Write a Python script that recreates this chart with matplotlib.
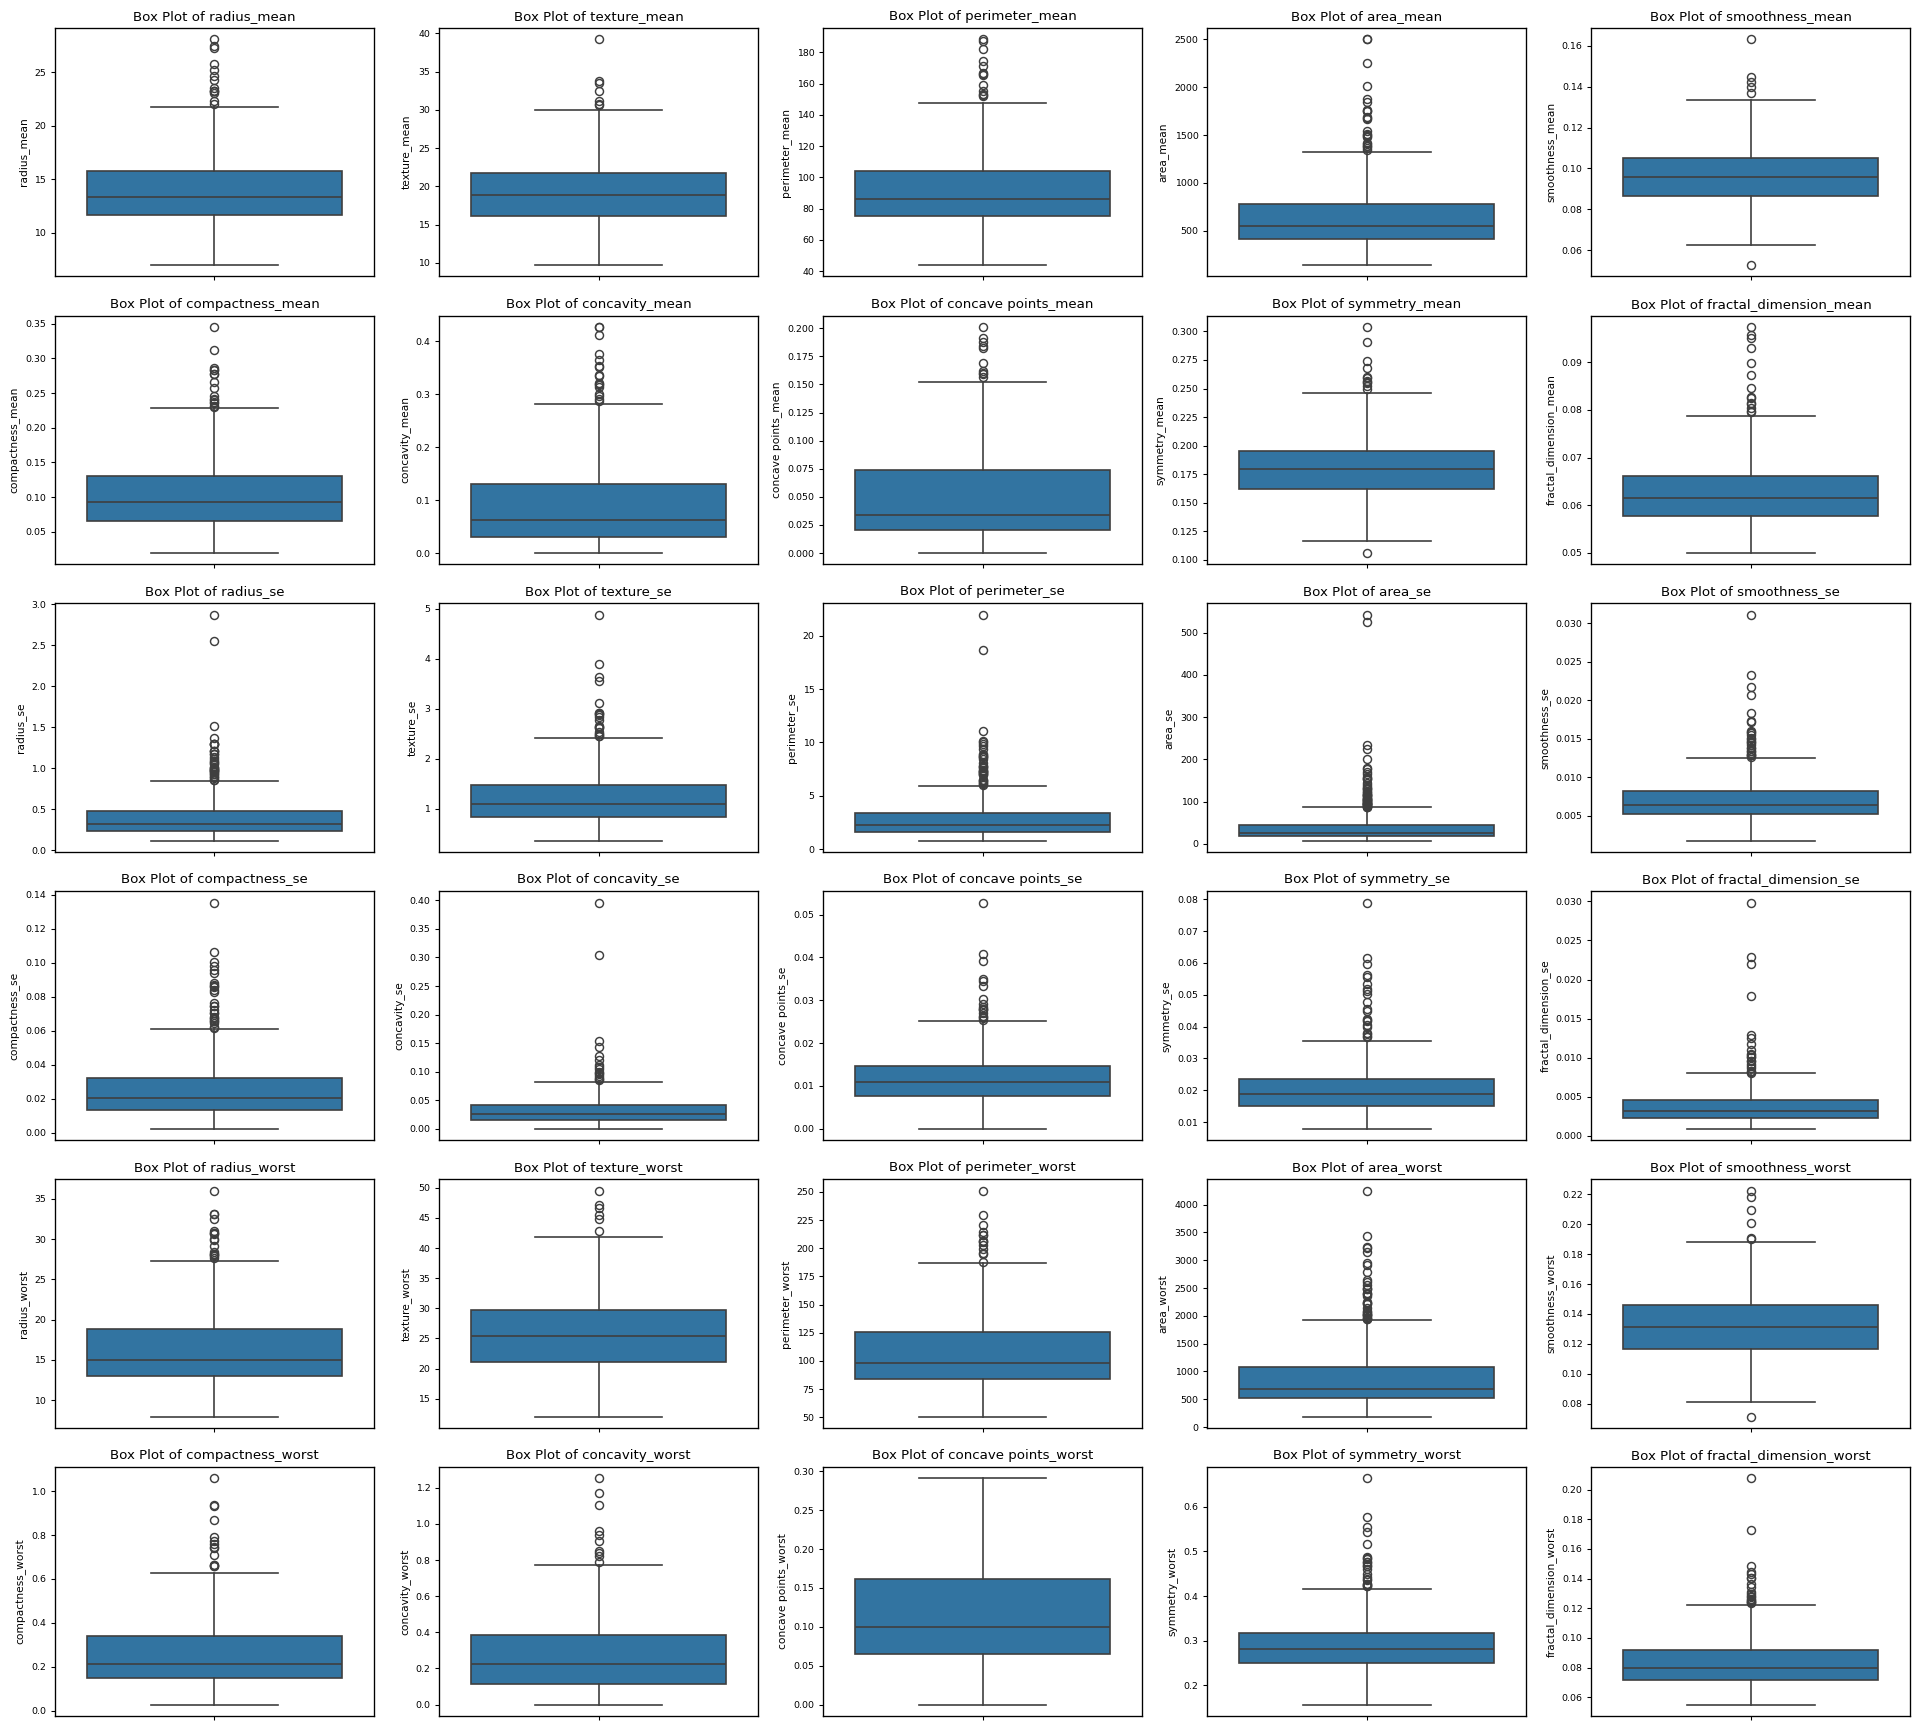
import matplotlib
matplotlib.use("Agg")
import matplotlib.pyplot as plt

features = [
    "radius_mean", "texture_mean", "perimeter_mean", "area_mean", "smoothness_mean",
    "compactness_mean", "concavity_mean", "concave points_mean", "symmetry_mean", "fractal_dimension_mean",
    "radius_se", "texture_se", "perimeter_se", "area_se", "smoothness_se",
    "compactness_se", "concavity_se", "concave points_se", "symmetry_se", "fractal_dimension_se",
    "radius_worst", "texture_worst", "perimeter_worst", "area_worst", "smoothness_worst",
    "compactness_worst", "concavity_worst", "concave points_worst", "symmetry_worst", "fractal_dimension_worst",
]

q1 = [11.70, 16.17, 75.17, 420.3, 0.08637,
      0.06492, 0.02956, 0.02031, 0.1619, 0.0577,
      0.2324, 0.8339, 1.606, 17.85, 0.005169,
      0.01308, 0.01509, 0.007638, 0.01516, 0.002248,
      13.01, 21.08, 84.11, 515.3, 0.1166,
      0.1472, 0.1145, 0.06493, 0.2504, 0.07146]
medians = [13.37, 18.84, 86.24, 551.1, 0.09587,
           0.09263, 0.06154, 0.0335, 0.1792, 0.06154,
           0.3242, 1.108, 2.287, 24.53, 0.00638,
           0.02045, 0.02589, 0.01093, 0.01873, 0.003187,
           14.97, 25.41, 97.66, 686.5, 0.1313,
           0.2119, 0.2267, 0.09993, 0.2822, 0.08004]
q3 = [15.78, 21.80, 104.1, 782.7, 0.1053,
      0.1304, 0.1307, 0.074, 0.1957, 0.06612,
      0.4789, 1.474, 3.357, 45.19, 0.008146,
      0.03245, 0.04205, 0.01471, 0.02348, 0.004558,
      18.79, 29.72, 125.4, 1084, 0.146,
      0.3391, 0.3829, 0.1614, 0.3179, 0.09208]
whisker_low = [6.981, 9.71, 43.79, 143.5, 0.06251,
               0.01938, 0.0, 0.0, 0.1167, 0.04996,
               0.1115, 0.3602, 0.757, 6.802, 0.001713,
               0.002252, 0.0, 0.0, 0.007882, 0.0008948,
               7.93, 12.02, 50.41, 185.2, 0.08125,
               0.02729, 0.0, 0.0, 0.1565, 0.05504]
whisker_high = [21.75, 29.97, 147.3, 1326, 0.1335,
                0.2284, 0.2810, 0.1522, 0.2459, 0.07871,
                0.8460, 2.426, 5.912, 86.0, 0.01253,
                0.06110, 0.08230, 0.02514, 0.03546, 0.00800,
                27.32, 41.85, 186.8, 1932, 0.1883,
                0.6247, 0.7727, 0.291, 0.4151, 0.1224]

outliers = [
    [22.01, 22.27, 23.09, 23.21, 23.27, 23.29, 23.51, 24.25, 24.63, 25.22, 25.73, 27.22, 27.42, 28.11],
    [30.62, 30.72, 31.12, 32.47, 33.56, 33.81, 39.28],
    [152.1, 152.8, 153.5, 155.1, 158.9, 165.5, 166.2, 166.8, 171.5, 174.2, 182.1, 186.9, 188.5],
    [1347, 1364, 1384, 1386, 1404, 1419, 1482, 1491, 1497, 1509, 1546, 1670, 1682, 1685, 1747, 1750,
     1761, 1841, 1878, 2010, 2250, 2499, 2501],
    [0.05263, 0.1371, 0.1398, 0.1425, 0.1447, 0.1634],
    [0.2293, 0.2308, 0.2363, 0.2364, 0.2396, 0.2413, 0.2458, 0.2576, 0.2665, 0.2768, 0.2776, 0.2832,
     0.2839, 0.2867, 0.3114, 0.3454],
    [0.2871, 0.2914, 0.2963, 0.3003, 0.3130, 0.3176, 0.3189, 0.3201, 0.3339, 0.3368, 0.3514, 0.3523,
     0.3635, 0.3754, 0.4108, 0.4264, 0.4268],
    [0.1562, 0.1595, 0.1604, 0.1620, 0.1689, 0.1823, 0.1845, 0.1878, 0.1913, 0.2012],
    [0.106, 0.2495, 0.2521, 0.2548, 0.2556, 0.2569, 0.2595, 0.2597, 0.2678, 0.2743, 0.2906, 0.304],
    [0.07950, 0.07976, 0.08046, 0.08116, 0.08142, 0.08243, 0.08261, 0.08450, 0.08743, 0.08980, 0.09296,
     0.09502, 0.09575, 0.09744],
    [0.8529, 0.8561, 0.8811, 0.8973, 0.9029, 0.9289, 0.9317, 0.9553, 0.9555, 0.9622, 0.9761, 0.9806,
     0.9811, 0.9915, 1.000, 1.004, 1.009, 1.046, 1.058, 1.072, 1.088, 1.111, 1.138, 1.167, 1.170,
     1.207, 1.214, 1.215, 1.291, 1.292, 1.296, 1.300, 1.370, 1.509, 2.547, 2.873],
    [2.454, 2.464, 2.508, 2.509, 2.542, 2.612, 2.635, 2.643, 2.664, 2.777, 2.836, 2.878, 2.904, 2.910,
     2.927, 3.120, 3.568, 3.647, 3.896, 4.885],
    [6.051, 6.076, 6.146, 6.311, 6.372, 6.462, 6.487, 6.971, 7.029, 7.050, 7.158, 7.237, 7.247, 7.276,
     7.337, 7.382, 7.561, 7.733, 7.749, 7.800, 8.077, 8.419, 8.589, 8.649, 8.758, 8.830, 8.867, 9.424,
     9.635, 9.807, 10.05, 10.12, 11.07, 18.65, 21.98],
    [87.17, 87.78, 88.25, 89.74, 90.47, 91.36, 93.54, 93.91, 93.99, 94.03, 94.44, 95.77, 97.07, 98.81,
     99.04, 100.4, 102.5, 102.6, 103.6, 104.9, 105.0, 106.0, 107.4, 111.4, 112.4, 115.2, 116.2, 116.4,
     118.8, 120.0, 122.3, 124.4, 128.7, 130.8, 133.0, 134.8, 139.9, 143.0, 153.1, 153.4, 155.8, 158.7,
     164.1, 170.0, 176.5, 180.2, 199.7, 224.1, 233.0, 525.6, 542.2],
    [0.01262, 0.01286, 0.01289, 0.01291, 0.01315, 0.01340, 0.01345, 0.01380, 0.01385, 0.01418, 0.01439,
     0.01456, 0.01474, 0.01492, 0.01508, 0.01546, 0.01574, 0.01582, 0.01604, 0.01721, 0.01736, 0.01835,
     0.02075, 0.02177, 0.02333, 0.03113],
    [0.06158, 0.06213, 0.06457, 0.06559, 0.06590, 0.06669, 0.06760, 0.06835, 0.07025, 0.07056, 0.07217,
     0.07446, 0.07471, 0.07643, 0.08297, 0.08422, 0.08555, 0.08606, 0.08668, 0.08808, 0.09368, 0.09586,
     0.09806, 0.1006, 0.1064, 0.1354],
    [0.08575, 0.08800, 0.08958, 0.09263, 0.09518, 0.09723, 0.09960, 0.1040, 0.1091, 0.1114, 0.1197,
     0.1278, 0.1438, 0.1535, 0.3038, 0.396],
    [0.02536, 0.02593, 0.02598, 0.02624, 0.02711, 0.02765, 0.02794, 0.02801, 0.02853, 0.02919, 0.03024,
     0.03322, 0.03441, 0.03487, 0.03927, 0.04090, 0.05279],
    [0.03672, 0.03710, 0.03756, 0.03799, 0.03997, 0.04047, 0.04183, 0.04197, 0.04243, 0.04484, 0.04547,
     0.04783, 0.05014, 0.05113, 0.05168, 0.05333, 0.05543, 0.05628, 0.05963, 0.06146, 0.07895],
    [0.008092, 0.008133, 0.008313, 0.008675, 0.008925, 0.009208, 0.009559, 0.009627, 0.01004, 0.01008,
     0.01039, 0.01045, 0.01092, 0.01178, 0.01256, 0.01284, 0.01792, 0.02193, 0.02286, 0.02984],
    [27.66, 27.90, 28.01, 28.11, 28.19, 28.40, 29.17, 29.92, 30.00, 30.67, 30.75, 30.79, 31.01, 32.49,
     33.12, 33.13, 36.04],
    [42.79, 44.87, 45.41, 46.61, 47.16, 49.54],
    [188.0, 195.0, 195.9, 199.5, 202.4, 205.7, 206.0, 206.8, 211.5, 211.7, 214.0, 220.8, 229.3, 251.2],
    [1938, 1946, 1952, 1972, 2009, 2010, 2022, 2027, 2053, 2073, 2089, 2145, 2215, 2227, 2232, 2240,
     2360, 2384, 2398, 2403, 2477, 2489, 2499, 2562, 2615, 2642, 2782, 2906, 2944, 3143, 3216, 3234,
     3432, 4254],
    [0.07117, 0.1902, 0.1909, 0.2006, 0.2098, 0.2184, 0.2226],
    [0.6577, 0.6590, 0.6643, 0.6656, 0.7090, 0.7394, 0.7444, 0.7584, 0.7725, 0.7917, 0.8663, 0.9327,
     0.9379, 1.058],
    [0.7892, 0.8216, 0.8402, 0.8488, 0.9034, 0.9387, 0.9608, 1.105, 1.170, 1.252],
    [],
    [0.4218, 0.4228, 0.4245, 0.4264, 0.4270, 0.4366, 0.4378, 0.4432, 0.4486, 0.4601, 0.4667, 0.4677,
     0.4724, 0.4753, 0.4761, 0.4824, 0.4863, 0.4882, 0.5166, 0.5440, 0.5558, 0.5774, 0.6638],
    [0.1233, 0.1240, 0.1243, 0.1249, 0.1252, 0.1259, 0.1275, 0.1284, 0.1297, 0.1308, 0.1341, 0.1364,
     0.1403, 0.1405, 0.1431, 0.1446, 0.1486, 0.1730, 0.2075],
]

BOX_COLOR = "#3274a1"
LINE_COLOR = "#3f3f3f"
LW = 1.25

fig, axes = plt.subplots(6, 5, figsize=(20, 18), dpi=96)
fig.subplots_adjust(left=0.0286, right=0.995, top=0.984, bottom=0.007,
                    wspace=0.204, hspace=0.157)

for i, ax in enumerate(axes.flat):
    stats = [{
        "med": medians[i], "q1": q1[i], "q3": q3[i],
        "whislo": whisker_low[i], "whishi": whisker_high[i],
        "fliers": outliers[i],
    }]
    ax.bxp(stats, positions=[0], widths=0.8, capwidths=0.4, vert=True,
           patch_artist=True, showfliers=True,
           boxprops=dict(facecolor=BOX_COLOR, edgecolor=LINE_COLOR, linewidth=LW),
           medianprops=dict(color=LINE_COLOR, linewidth=LW),
           whiskerprops=dict(color=LINE_COLOR, linewidth=LW),
           capprops=dict(color=LINE_COLOR, linewidth=LW),
           flierprops=dict(marker="o", markerfacecolor="none", markeredgecolor=LINE_COLOR,
                           markersize=6, markeredgewidth=1.1, linestyle="none"))
    ax.set_xlim(-0.5, 0.5)
    ax.set_xticks([0])
    ax.set_xticklabels([""])
    ax.set_title(f"Box Plot of {features[i]}", fontsize=10)
    ax.set_ylabel(features[i], fontsize=8)
    ax.tick_params(axis="y", labelsize=7)
    ax.tick_params(axis="both", length=3, width=0.8)
    for s in ax.spines.values():
        s.set_linewidth(1.0)

fig.savefig("out.png", dpi=96)
